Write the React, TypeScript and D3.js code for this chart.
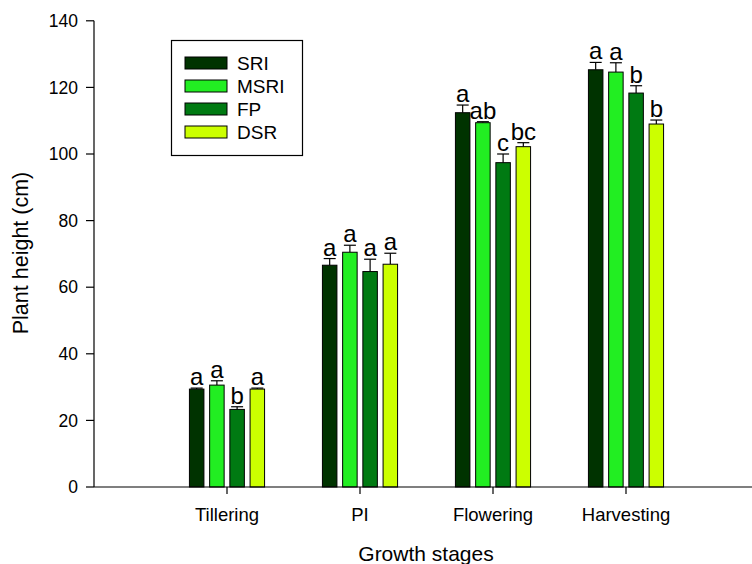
import React from "react";
import * as d3 from "d3";

const categories = ["Tillering", "PI", "Flowering", "Harvesting"];
const seriesNames = ["SRI", "MSRI", "FP", "DSR"];
const colors = ["#003300", "#22ee22", "#007a12", "#ccff00"];
const SRI = [29.4, 66.6, 112.4, 125.3];
const MSRI = [30.6, 70.5, 109.4, 124.6];
const FP = [23.3, 64.7, 97.4, 118.3];
const DSR = [29.4, 66.9, 102.2, 109.0];
const SRI_err = [0.3, 2.0, 2.3, 2.2];
const MSRI_err = [1.3, 2.1, 0.3, 2.8];
const FP_err = [0.8, 3.7, 2.6, 2.2];
const DSR_err = [0.3, 3.3, 1.2, 1.2];
const SRI_lbl = ["a", "a", "a", "a"];
const MSRI_lbl = ["a", "a", "ab", "a"];
const FP_lbl = ["b", "a", "c", "b"];
const DSR_lbl = ["a", "a", "bc", "b"];
const yTicks = [0, 20, 40, 60, 80, 100, 120, 140];

const values = [SRI, MSRI, FP, DSR];
const errs = [SRI_err, MSRI_err, FP_err, DSR_err];
const lbls = [SRI_lbl, MSRI_lbl, FP_lbl, DSR_lbl];

const FONT = "'Liberation Sans', Arial, sans-serif";

export default function App() {
  const W = 752, H = 564;
  const x = d3.scaleLinear().domain([0, 5]).range([94, 759]);
  const y = d3.scaleLinear().domain([0, 140]).range([487, 20.8]);
  const pitch = 0.152;
  const bw = 0.109;
  const bwPx = x(bw) - x(0);
  const capHalf = 6;

  return (
    <svg width={W} height={H} style={{ position: "absolute", left: 0, top: 0, background: "#fff" }} fontFamily={FONT}>
      <rect x={0} y={0} width={W} height={H} fill="#fff" />
      {values.map((vals, s) =>
        vals.map((v, c) => {
          const cx = x(c + 1 + (s - 1.5) * pitch);
          const top = y(v + errs[s][c]);
          return (
            <g key={`${s}-${c}`}>
              <line x1={cx} x2={cx} y1={y(v)} y2={top} stroke="#000" strokeWidth={1.2} />
              <line x1={cx - capHalf} x2={cx + capHalf} y1={top} y2={top} stroke="#000" strokeWidth={1.2} />
              <rect x={cx - bwPx / 2} y={y(v)} width={bwPx} height={y(0) - y(v)} fill={colors[s]} stroke="#000" strokeWidth={1} />
              <text x={cx} y={top - 3} textAnchor="middle" fontSize={24} fill="#000">{lbls[s][c]}</text>
            </g>
          );
        })
      )}
      <line x1={94} x2={94} y1={y(140)} y2={y(0)} stroke="#000" strokeWidth={1.2} />
      {yTicks.map((t) => (
        <g key={t}>
          <line x1={86} x2={94} y1={y(t)} y2={y(t)} stroke="#000" strokeWidth={1.2} />
          <text x={78} y={y(t)} dy="0.35em" textAnchor="end" fontSize={17.5} fill="#000">{t}</text>
        </g>
      ))}
      <line x1={94} x2={W} y1={y(0)} y2={y(0)} stroke="#000" strokeWidth={1.2} />
      {categories.map((c, i) => (
        <g key={c}>
          <line x1={x(i + 1)} x2={x(i + 1)} y1={y(0)} y2={y(0) + 7} stroke="#000" strokeWidth={1.2} />
          <text x={x(i + 1)} y={521} textAnchor="middle" fontSize={18.5} fill="#000">{c}</text>
        </g>
      ))}
      <text x={426} y={561} textAnchor="middle" fontSize={21} fill="#000">Growth stages</text>
      <text transform={`translate(28,253) rotate(-90)`} textAnchor="middle" fontSize={21.5} fill="#000">Plant height (cm)</text>
      <rect x={171.5} y={40.5} width={131} height={115} fill="#fff" stroke="#000" strokeWidth={1.2} />
      {seriesNames.map((n, i) => (
        <g key={n}>
          <rect x={185} y={57 + i * 23} width={42} height={12} fill={colors[i]} stroke="#000" strokeWidth={1} />
          <text x={237} y={63 + i * 23} dy="0.36em" fontSize={19} fill="#000">{n}</text>
        </g>
      ))}
    </svg>
  );
}
